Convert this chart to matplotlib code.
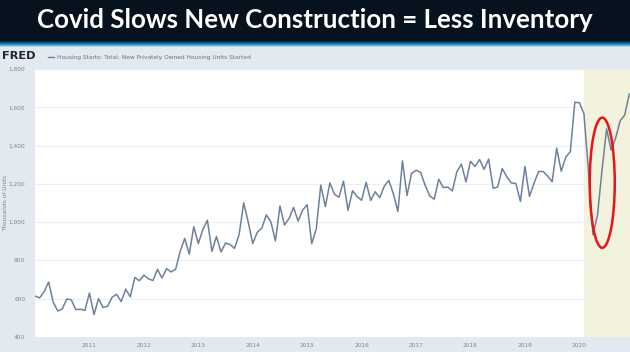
import matplotlib.pyplot as plt
import matplotlib.patches as mpatches
import numpy as np

# Housing starts, thousands of units (SAAR), monthly Jan 2010 - Dec 2020
starts_2010 = [614, 604, 636, 687, 583, 536, 546, 599, 594, 543, 545, 539]
starts_2011 = [630, 517, 600, 554, 561, 608, 623, 585, 650, 610, 711, 694]
starts_2012 = [723, 704, 695, 753, 708, 757, 740, 754, 847, 915, 833, 976]
starts_2013 = [888, 962, 1010, 847, 925, 844, 891, 883, 863, 936, 1101, 1001]
starts_2014 = [888, 947, 969, 1038, 1001, 902, 1084, 985, 1019, 1077, 1005, 1063]
starts_2015 = [1091, 888, 964, 1194, 1081, 1205, 1146, 1130, 1214, 1062, 1164, 1134]
starts_2016 = [1114, 1208, 1113, 1159, 1128, 1188, 1218, 1148, 1055, 1320, 1139, 1254]
starts_2017 = [1271, 1260, 1193, 1137, 1120, 1224, 1181, 1183, 1163, 1264, 1303, 1210]
starts_2018 = [1318, 1290, 1327, 1276, 1329, 1177, 1184, 1280, 1237, 1205, 1202, 1108]
starts_2019 = [1291, 1134, 1203, 1264, 1265, 1241, 1211, 1386, 1266, 1340, 1368, 1626]
starts_2020 = [1624, 1567, 1269, 934, 1038, 1273, 1487, 1376, 1440, 1530, 1560, 1669]

year_ticks = [2011, 2012, 2013, 2014, 2015, 2016, 2017, 2018, 2019, 2020]
y_ticks = [400, 600, 800, 1000, 1200, 1400, 1600, 1800]
recession_start = 2020 + 1 / 12

title = "Covid Slows New Construction = Less Inventory"
series_name = "Housing Starts: Total: New Privately Owned Housing Units Started"

values = (starts_2010 + starts_2011 + starts_2012 + starts_2013 + starts_2014
          + starts_2015 + starts_2016 + starts_2017 + starts_2018 + starts_2019
          + starts_2020)
dates = 2010 + np.arange(len(values)) / 12

W, H = 630, 352
fig = plt.figure(figsize=(W / 100, H / 100), dpi=100)
fig.patch.set_facecolor("#e2e9f0")

# dark title banner with a blue glow strip underneath
fig.patches.append(mpatches.Rectangle((0, 1 - 41 / H), 1, 41 / H, transform=fig.transFigure,
                                      facecolor="#06121e", edgecolor="none", zorder=0))
stripe_cols = ["#0a2c48", "#11507a", "#1a74a8", "#2a95c9", "#5bb2d8", "#b7d6e6"]
for k, c in enumerate(stripe_cols):
    fig.patches.append(mpatches.Rectangle((0, 1 - (41 + k + 1) / H), 1, 1 / H,
                                          transform=fig.transFigure, facecolor=c,
                                          edgecolor="none", zorder=0))
fig.text(0.5, 1 - 20 / H, title, ha="center", va="center", color="white",
         fontsize=18.6, fontweight="bold", family="Lato")

# FRED header
fig.text(2 / W, 1 - 56 / H, "FRED", ha="left", va="center", color="#1d2833",
         fontsize=8.2, fontweight="bold", family="DejaVu Sans")
fig.lines.append(plt.Line2D([48 / W, 54 / W], [1 - 57 / H] * 2, transform=fig.transFigure,
                            color="#6d819c", lw=1))
fig.text(57 / W, 1 - 57 / H, series_name, ha="left", va="center", color="#6a737c",
         fontsize=4.2)

ax = fig.add_axes([35 / W, 15 / H, 1 - 35 / W, (337 - 69) / H])
ax.set_facecolor("white")
ax.axvspan(recession_start, 2021, color="#f3f2dc", lw=0, zorder=0)
ax.plot(dates, values, color="#6d819c", lw=1.1, zorder=3)

# red ellipse around the covid drop
ax.add_patch(mpatches.Ellipse((2020.42, 1206), 0.46, 680, fill=False,
                              edgecolor="#e8141a", lw=1.8, zorder=4))

ax.set_xlim(2010, 2020.93)
ax.set_ylim(400, 1800)
ax.set_yticks(y_ticks)
ax.set_yticklabels([f"{v:,}" for v in y_ticks])
ax.set_xticks(year_ticks)
ax.set_xticklabels([str(y) for y in year_ticks])
ax.grid(axis="y", color="#eceff2", lw=0.8)
ax.set_axisbelow(True)
ax.tick_params(length=0, labelsize=4.2, labelcolor="#7c8794", pad=7)
ax.tick_params(axis="x", pad=4)
for s in ax.spines.values():
    s.set_visible(False)
ax.set_ylabel("Thousands of Units", fontsize=4.2, color="#7c8794")
ax.yaxis.set_label_coords(-27 / 595, 0.5)

fig.savefig("out.png", dpi=100, facecolor=fig.get_facecolor())
